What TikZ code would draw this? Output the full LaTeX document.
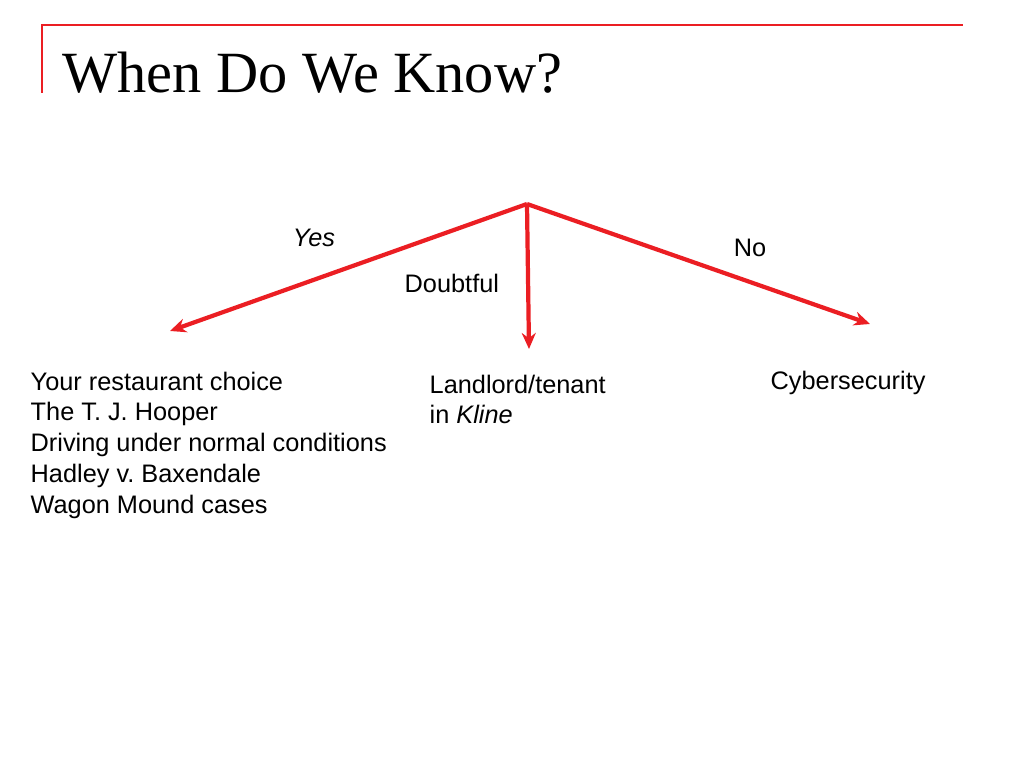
\documentclass[tikz,border=0pt]{standalone}
\usepackage{fontspec}
\setmainfont{Liberation Sans}
\newfontfamily\titlefont{Liberation Serif}
\usetikzlibrary{arrows.meta}
\definecolor{slidered}{RGB}{235,30,35}

\begin{document}
\begin{tikzpicture}[x=0.01cm,y=-0.01cm,
  branch/.style={draw=slidered,line width=1.2pt,-{Stealth[length=0.16cm,width=0.14cm]}},
  leaf/.style={inner sep=0pt,align=left,font=\fontsize{7.2}{8.8}\selectfont},
  tag/.style={inner sep=0pt,font=\fontsize{7.2}{8.8}\selectfont}]
\useasboundingbox (0,0) rectangle (1024,768);
% frame of the slide
\coordinate (tl) at (42,93);
\coordinate (tc) at (42,25);
\coordinate (tr) at (963,25);
\draw[slidered,line width=0.5pt] (tl) -- (tc) -- (tr);
\node[anchor=base west,inner sep=0pt,font=\titlefont\fontsize{16.6}{18}\selectfont] (title) at (62,93) {When Do We Know?};
% tree
\coordinate (root) at (527,204);
\coordinate (yesend) at (170,331);
\coordinate (doubtend) at (529,349);
\coordinate (noend) at (870,324);
\draw[branch] (root) -- (yesend);
\draw[branch] (root) -- (doubtend);
\draw[branch] (root) -- (noend);
\node[tag] (yes) at (314,238) {\itshape Yes};
\node[tag] (no) at (750,248) {No};
\node[tag,anchor=west] (doubtful) at (404,283) {Doubtful};
% outcomes
\node[leaf,anchor=north west] (yescases) at (30,371) {Your restaurant choice\\The T. J. Hooper\\Driving under normal conditions\\Hadley v.\ Baxendale\\Wagon Mound cases};
\node[leaf,anchor=north west] (doubtcases) at (429,374) {Landlord/tenant\\in \textit{Kline}};
\node[leaf,anchor=north west] (nocases) at (770,370) {Cybersecurity};
\end{tikzpicture}
\end{document}
